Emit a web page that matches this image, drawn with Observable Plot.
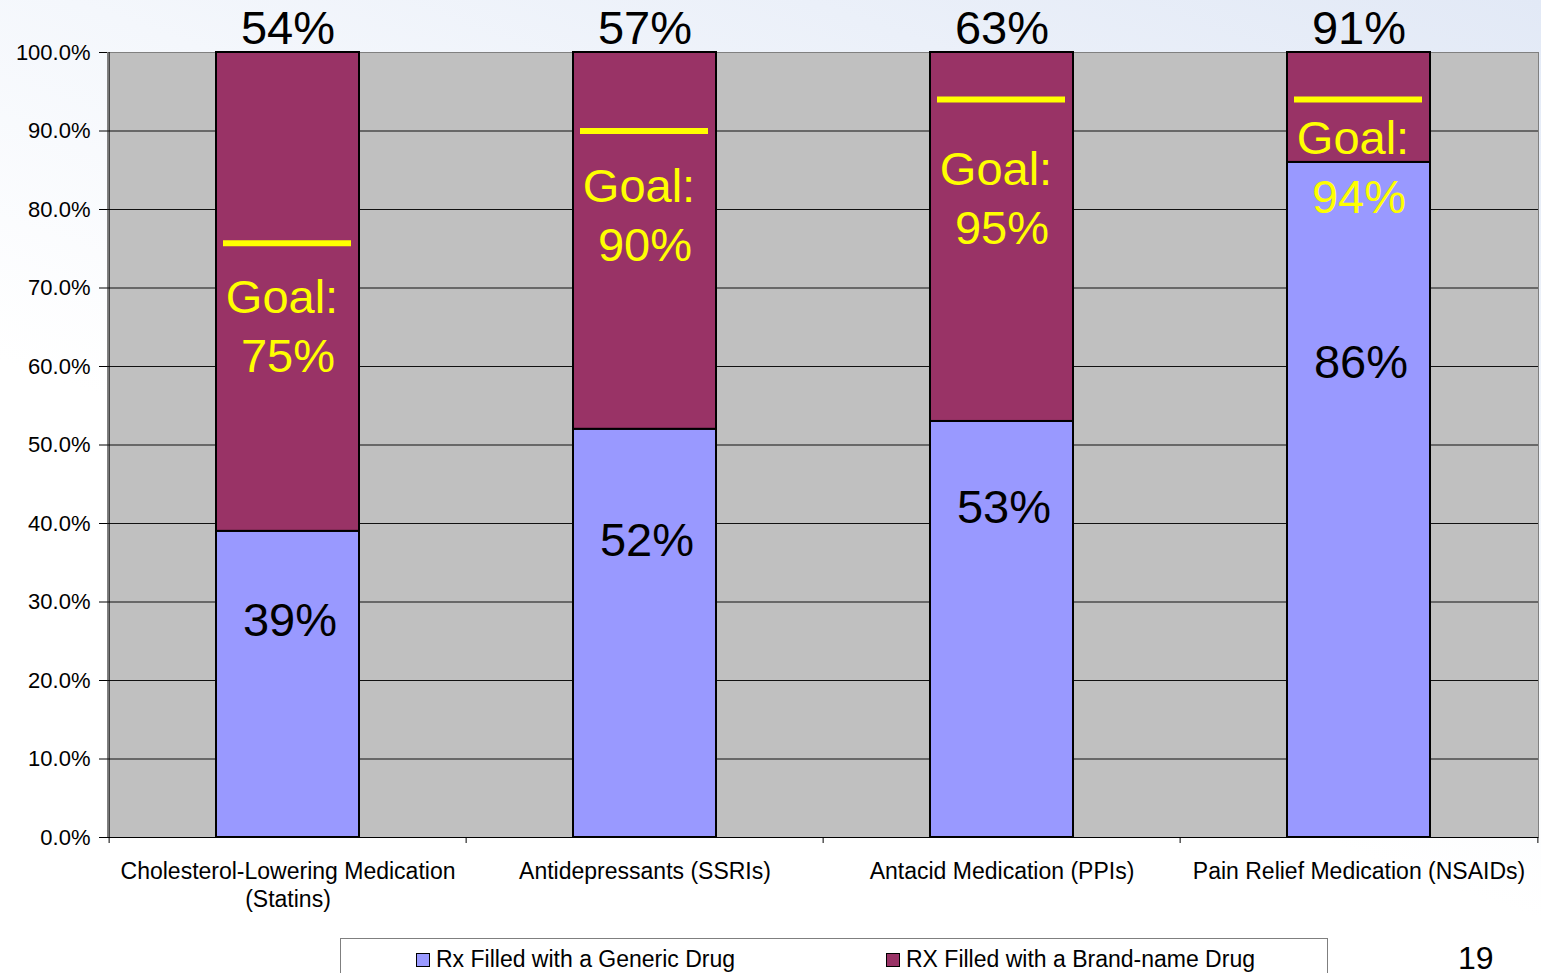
<!DOCTYPE html>
<html>
<head>
<meta charset="utf-8">
<script src="https://cdn.jsdelivr.net/npm/d3@7"></script>
<script src="https://cdn.jsdelivr.net/npm/@observablehq/plot@0.6"></script>
<style>
  html, body { margin: 0; padding: 0; width: 1541px; height: 973px; overflow: hidden; }
  body {
    font-family: "Liberation Sans", Arial, sans-serif;
    background: linear-gradient(200deg, #e2e9f6 0%, #f4f7fc 35%, #ffffff 60%);
    position: relative;
  }
  #chart { position: absolute; left: 0; top: 0; }
  #legend {
    position: absolute; left: 340px; top: 938px; width: 988px; height: 50px;
    border: 1px solid #7f7f7f; background: #ffffff; box-sizing: border-box;
    font-size: 23px; color: #000;
  }
  .item { position: absolute; top: 7px; display: flex; align-items: center; white-space: nowrap; }
  .sw { width: 12px; height: 12px; border: 1.5px solid #000; margin-right: 6px; }
  #page { position: absolute; left: 1458px; top: 940px; font-size: 32px; color: #000; }
</style>
</head>
<body>
<div id="chart"></div>
<div id="legend"></div>
<div id="page">19</div>
<script>
// ---- data ----
const categories = [
  "Cholesterol-Lowering Medication\n(Statins)",
  "Antidepressants (SSRIs)",
  "Antacid Medication (PPIs)",
  "Pain Relief Medication (NSAIDs)"
];
const genericPct = [39, 52, 53, 86];
const brandPct = [61, 48, 47, 14];
const overallLabels = ["54%", "57%", "63%", "91%"];
const genericLabels = ["39%", "52%", "53%", "86%"];
const goalLine = [75.7, 90, 94, 94];
const goalLabels = ["75%", "90%", "95%", "94%"];
const goalLabelAt = [68.7, 82.9, 85.0, 89.0];
const genericLabelAt = [27.6, 37.8, 42.0, 60.4];
const seriesNames = ["Rx Filled with a Generic Drug", "RX Filled with a Brand-name Drug"];
const seriesColors = ["#9999FF", "#993366"];
const yTicks = [0, 10, 20, 30, 40, 50, 60, 70, 80, 90, 100];

// ---- tables ----
const stacked = [];
categories.forEach((c, i) => {
  stacked.push({cat: c, series: seriesNames[0], value: genericPct[i]});
  stacked.push({cat: c, series: seriesNames[1], value: brandPct[i]});
});
const rows = categories.map((c, i) => ({
  cat: c, overall: overallLabels[i], genLabel: genericLabels[i], genAt: genericLabelAt[i],
  goal: goalLine[i], goalLabel: goalLabels[i], goalAt: goalLabelAt[i]
}));

const W = 1541, H = 935, mL = 107, mR = 3, mT = 52, mB = 98;
const pInner = 0.6, pOuter = 0.3;
const step = (W - mL - mR) / (categories.length - pInner + 2 * pOuter);
const bw = step * (1 - pInner);
const font = "'Liberation Sans', Arial, sans-serif";

const chart = Plot.plot({
  width: W, height: H,
  marginLeft: mL, marginRight: mR, marginTop: mT, marginBottom: mB,
  style: {fontFamily: font, color: "#000", background: "transparent", overflow: "visible"},
  x: {domain: categories, paddingInner: pInner, paddingOuter: pOuter, axis: null, label: null},
  y: {domain: [0, 100], axis: null, label: null},
  color: {domain: seriesNames, range: seriesColors},
  marks: [
    Plot.frame({fill: "#C0C0C0", stroke: "#808080"}),
    Plot.gridY(yTicks.slice(0, -1), {stroke: "#111", strokeOpacity: 1, strokeWidth: 1}),
    Plot.barY(stacked, {x: "cat", y: "value", fill: "series", stroke: "#000", strokeWidth: 2}),
    Plot.tickY(rows, {x: "cat", y: "goal", stroke: "#FFFF00", strokeWidth: 6, insetLeft: 7, insetRight: 8}),
    Plot.text(rows, {x: "cat", y: "goalAt", text: () => "Goal:", fill: "#FFFF00", fontSize: 47, dx: -6, lineAnchor: "middle"}),
    Plot.text(rows, {x: "cat", y: "goalAt", text: "goalLabel", fill: "#FFFF00", fontSize: 47, dy: 59, dx: 0, lineAnchor: "middle"}),
    Plot.text(rows, {x: "cat", y: "genAt", text: "genLabel", fill: "#000", fontSize: 47, dx: 2, lineAnchor: "middle"}),
    Plot.text(rows, {x: "cat", y: 100, text: "overall", fill: "#000", fontSize: 47, dx: 0, dy: -9, lineAnchor: "bottom"}),
    Plot.axisY(yTicks, {tickSize: 8, tickPadding: 9, fontSize: 22, tickFormat: d => d.toFixed(1) + "%", stroke: "#000", label: null}),
    Plot.ruleX([0], {x: () => categories[0], dx: -step * pOuter - bw / 2, stroke: "#000"}),
    Plot.ruleY([0], {stroke: "#000", strokeWidth: 1}),
    Plot.axisX(categories, {tickSize: 0, tickPadding: 22, fontSize: 23, lineHeight: 1.22, fill: "#000", label: null}),
    Plot.axisX(categories, {tickSize: 6, tickFormat: () => "", dx: -step / 2, stroke: "#000", label: null}),
    Plot.axisX([categories[categories.length - 1]], {tickSize: 6, tickFormat: () => "", dx: step / 2, stroke: "#000", label: null})
  ]
});
document.getElementById("chart").appendChild(chart);

// ---- legend ----
const legend = document.getElementById("legend");
const legendLeft = [75, 545];
seriesNames.forEach((name, i) => {
  const it = document.createElement("div");
  it.className = "item";
  it.style.left = legendLeft[i] + "px";
  const sw = document.createElement("span");
  sw.className = "sw";
  sw.style.background = seriesColors[i];
  const tx = document.createElement("span");
  tx.textContent = name;
  it.appendChild(sw); it.appendChild(tx);
  legend.appendChild(it);
});
</script>
</body>
</html>
